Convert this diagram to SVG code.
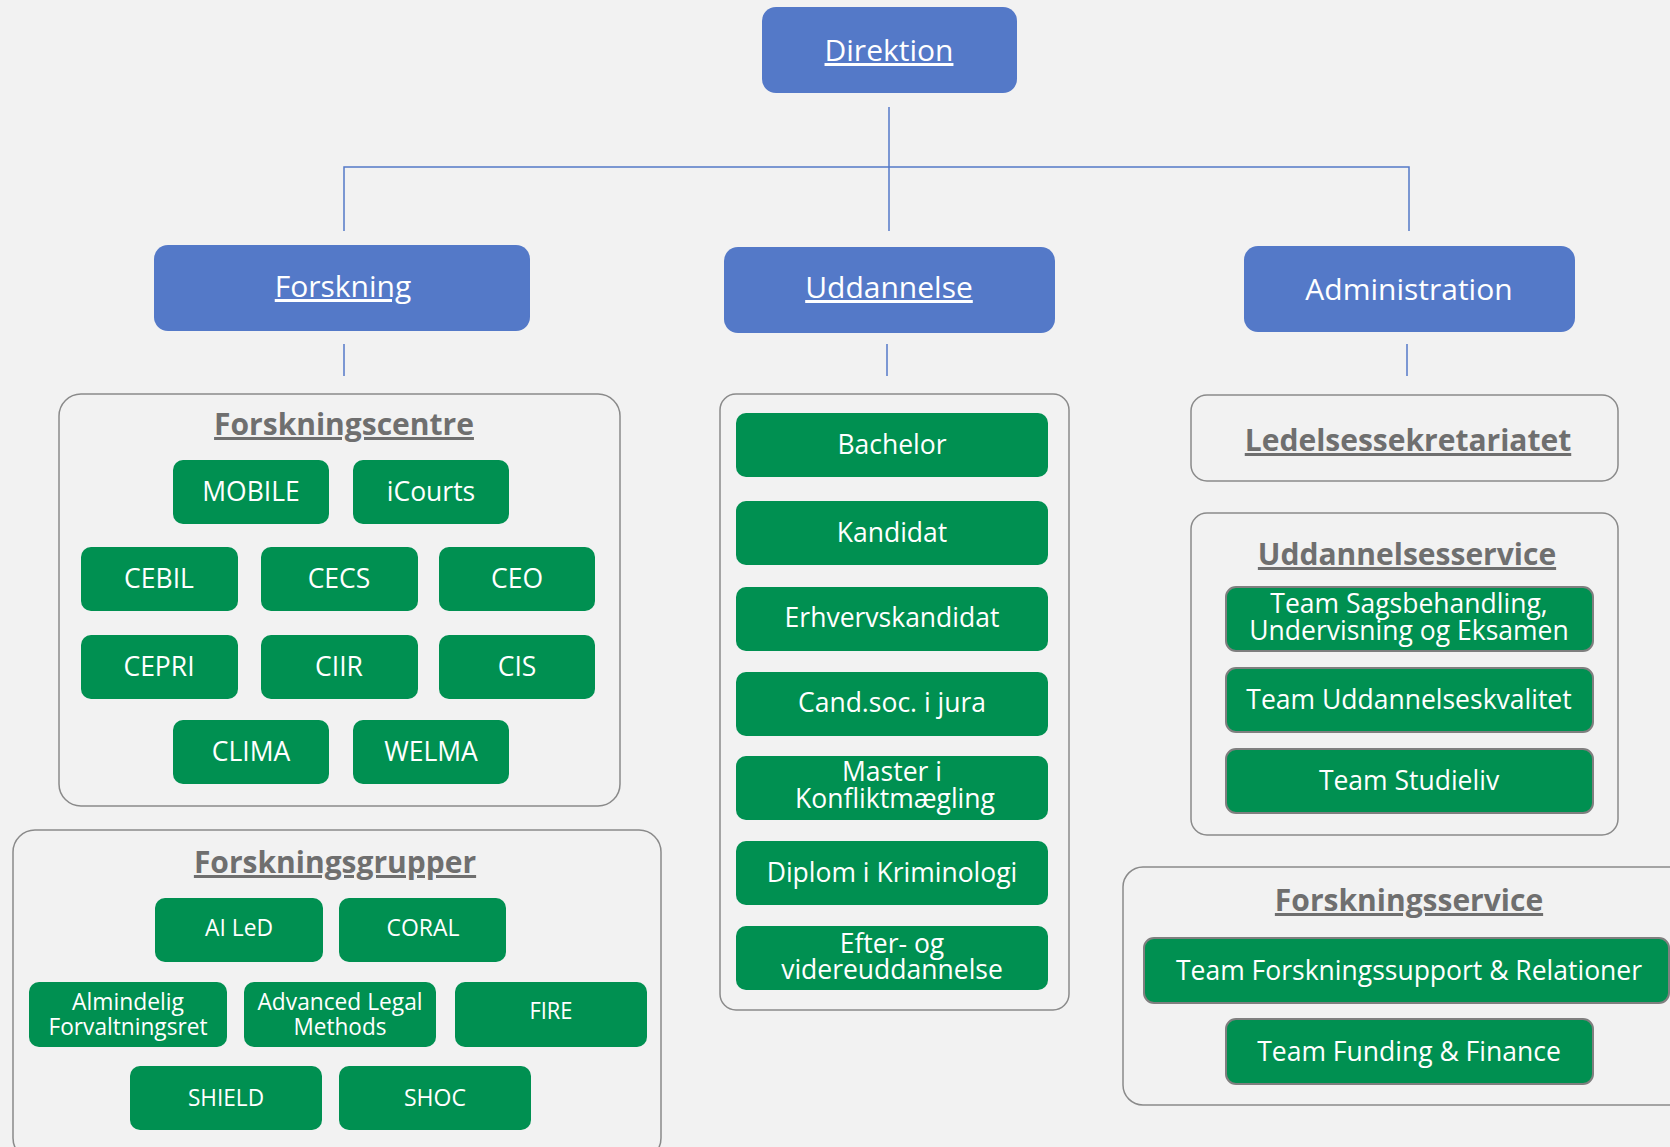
<svg xmlns="http://www.w3.org/2000/svg" width="1670" height="1147" viewBox="0 0 1670 1147">
<style>
.bg{fill:#f2f2f2}
.blue{fill:#5479c8}
.bt{font-family:"Open Sans","Noto Sans",sans-serif;font-size:30px;fill:#ffffff;text-anchor:middle}
.u{text-decoration:underline}
.cont{fill:none;stroke:#8a8a8a;stroke-width:1.5}
.title{font-family:"Open Sans","Noto Sans",sans-serif;font-size:30px;font-weight:bold;fill:#6f6f6f;text-anchor:middle;text-decoration:underline}
.g{fill:#009051}
.gs{fill:#009051;stroke:#7f7f7f;stroke-width:2}
.gt{font-family:"Open Sans","Noto Sans",sans-serif;font-size:26.5px;fill:#ffffff;text-anchor:middle}
.ct{font-family:"Open Sans","Noto Sans",sans-serif;font-size:23px;fill:#ffffff;text-anchor:middle}
.conn{fill:none;stroke:#5479c8;stroke-width:1.5}
</style>
<rect class="bg" x="0" y="0" width="1670" height="1147"/>

<g id="connectors">
<line class="conn" x1="889" y1="107" x2="889" y2="231"/>
<polyline class="conn" points="344,231 344,167 1409,167 1409,231"/>
<line class="conn" x1="344" y1="344" x2="344" y2="376"/>
<line class="conn" x1="887" y1="344" x2="887" y2="376"/>
<line class="conn" x1="1407" y1="344" x2="1407" y2="376"/>
</g>

<g id="direktion"><rect class="blue" x="762" y="7" width="255" height="86" rx="14"/><text class="bt u" x="889" y="61">Direktion</text></g>
<g id="forskning"><rect class="blue" x="154" y="245" width="376" height="86" rx="14"/><text class="bt u" x="343" y="297">Forskning</text></g>
<g id="uddannelse"><rect class="blue" x="724" y="247" width="331" height="86" rx="14"/><text class="bt u" x="889" y="298">Uddannelse</text></g>
<g id="administration"><rect class="blue" x="1244" y="246" width="331" height="86" rx="14"/><text class="bt" x="1409" y="300">Administration</text></g>

<g id="forskningscentre">
<rect class="cont" x="59" y="394" width="561" height="412" rx="22"/>
<text class="title" x="344" y="435">Forskningscentre</text>
</g>
<g id="mobile"><rect class="g" x="173" y="460" width="156" height="64" rx="10"/><text class="gt" x="251" y="501">MOBILE</text></g>
<g id="icourts"><rect class="g" x="353" y="460" width="156" height="64" rx="10"/><text class="gt" x="431" y="501">iCourts</text></g>
<g id="cebil"><rect class="g" x="81" y="547" width="157" height="64" rx="10"/><text class="gt" x="159" y="588">CEBIL</text></g>
<g id="cecs"><rect class="g" x="261" y="547" width="157" height="64" rx="10"/><text class="gt" x="339" y="588">CECS</text></g>
<g id="ceo"><rect class="g" x="439" y="547" width="156" height="64" rx="10"/><text class="gt" x="517" y="588">CEO</text></g>
<g id="cepri"><rect class="g" x="81" y="635" width="157" height="64" rx="10"/><text class="gt" x="159" y="676">CEPRI</text></g>
<g id="ciir"><rect class="g" x="261" y="635" width="157" height="64" rx="10"/><text class="gt" x="339" y="676">CIIR</text></g>
<g id="cis"><rect class="g" x="439" y="635" width="156" height="64" rx="10"/><text class="gt" x="517" y="676">CIS</text></g>
<g id="clima"><rect class="g" x="173" y="720" width="156" height="64" rx="10"/><text class="gt" x="251" y="761">CLIMA</text></g>
<g id="welma"><rect class="g" x="353" y="720" width="156" height="64" rx="10"/><text class="gt" x="431" y="761">WELMA</text></g>

<g id="forskningsgrupper">
<rect class="cont" x="13" y="830" width="648" height="330" rx="22"/>
<text class="title" x="335" y="873">Forskningsgrupper</text>
</g>
<g id="ailed"><rect class="g" x="155" y="898" width="168" height="64" rx="10"/><text class="ct" x="239" y="936" textLength="68" lengthAdjust="spacingAndGlyphs">AI LeD</text></g>
<g id="coral"><rect class="g" x="339" y="898" width="167" height="64" rx="10"/><text class="ct" x="423" y="936" textLength="73" lengthAdjust="spacingAndGlyphs">CORAL</text></g>
<g id="almindelig"><rect class="g" x="29" y="982" width="198" height="65" rx="10"/><text class="ct" x="128" y="1010" textLength="112" lengthAdjust="spacingAndGlyphs">Almindelig</text><text class="ct" x="128" y="1035" textLength="159" lengthAdjust="spacingAndGlyphs">Forvaltningsret</text></g>
<g id="advanced"><rect class="g" x="244" y="982" width="192" height="65" rx="10"/><text class="ct" x="340" y="1010" textLength="165" lengthAdjust="spacingAndGlyphs">Advanced Legal</text><text class="ct" x="340" y="1035" textLength="93" lengthAdjust="spacingAndGlyphs">Methods</text></g>
<g id="fire"><rect class="g" x="455" y="982" width="192" height="65" rx="10"/><text class="ct" x="551" y="1019" textLength="43" lengthAdjust="spacingAndGlyphs">FIRE</text></g>
<g id="shield"><rect class="g" x="130" y="1066" width="192" height="64" rx="10"/><text class="ct" x="226" y="1106" textLength="76" lengthAdjust="spacingAndGlyphs">SHIELD</text></g>
<g id="shoc"><rect class="g" x="339" y="1066" width="192" height="64" rx="10"/><text class="ct" x="435" y="1106" textLength="62" lengthAdjust="spacingAndGlyphs">SHOC</text></g>

<g id="uddannelser"><rect class="cont" x="720" y="394" width="349" height="616" rx="16"/></g>
<g id="bachelor"><rect class="g" x="736" y="413" width="312" height="64" rx="10"/><text class="gt" x="892" y="454">Bachelor</text></g>
<g id="kandidat"><rect class="g" x="736" y="501" width="312" height="64" rx="10"/><text class="gt" x="892" y="542">Kandidat</text></g>
<g id="erhvervskandidat"><rect class="g" x="736" y="587" width="312" height="64" rx="10"/><text class="gt" x="892" y="627">Erhvervskandidat</text></g>
<g id="candsoc"><rect class="g" x="736" y="672" width="312" height="64" rx="10"/><text class="gt" x="892" y="712">Cand.soc. i jura</text></g>
<g id="master"><rect class="g" x="736" y="756" width="312" height="64" rx="10"/><text class="gt" x="892" y="781">Master i</text><text class="gt" x="895" y="808">Konfliktmægling</text></g>
<g id="diplom"><rect class="g" x="736" y="841" width="312" height="64" rx="10"/><text class="gt" x="892" y="882">Diplom i Kriminologi</text></g>
<g id="efter"><rect class="g" x="736" y="926" width="312" height="64" rx="10"/><text class="gt" x="892" y="953">Efter- og</text><text class="gt" x="892" y="979">videreuddannelse</text></g>

<g id="ledelsessekretariatet">
<rect class="cont" x="1191" y="395" width="427" height="86" rx="16"/>
<text class="title" x="1408" y="451">Ledelsessekretariatet</text>
</g>
<g id="uddannelsesservice">
<rect class="cont" x="1191" y="513" width="427" height="322" rx="16"/>
<text class="title" x="1407" y="565">Uddannelsesservice</text>
</g>
<g id="sagsbehandling"><rect class="gs" x="1226" y="587" width="367" height="64" rx="10"/><text class="gt" x="1409" y="613">Team Sagsbehandling,</text><text class="gt" x="1409" y="640">Undervisning og Eksamen</text></g>
<g id="uddkvalitet"><rect class="gs" x="1226" y="668" width="367" height="64" rx="10"/><text class="gt" x="1409" y="709">Team Uddannelseskvalitet</text></g>
<g id="studieliv"><rect class="gs" x="1226" y="749" width="367" height="64" rx="10"/><text class="gt" x="1409" y="790">Team Studieliv</text></g>

<g id="forskningsservice">
<rect class="cont" x="1123" y="867" width="580" height="238" rx="20"/>
<text class="title" x="1409" y="911">Forskningsservice</text>
</g>
<g id="forskningssupport"><rect class="gs" x="1144" y="938" width="525" height="65" rx="10"/><text class="gt" x="1409" y="980">Team Forskningssupport &amp; Relationer</text></g>
<g id="funding"><rect class="gs" x="1226" y="1019" width="367" height="65" rx="10"/><text class="gt" x="1409" y="1061">Team Funding &amp; Finance</text></g>
</svg>
